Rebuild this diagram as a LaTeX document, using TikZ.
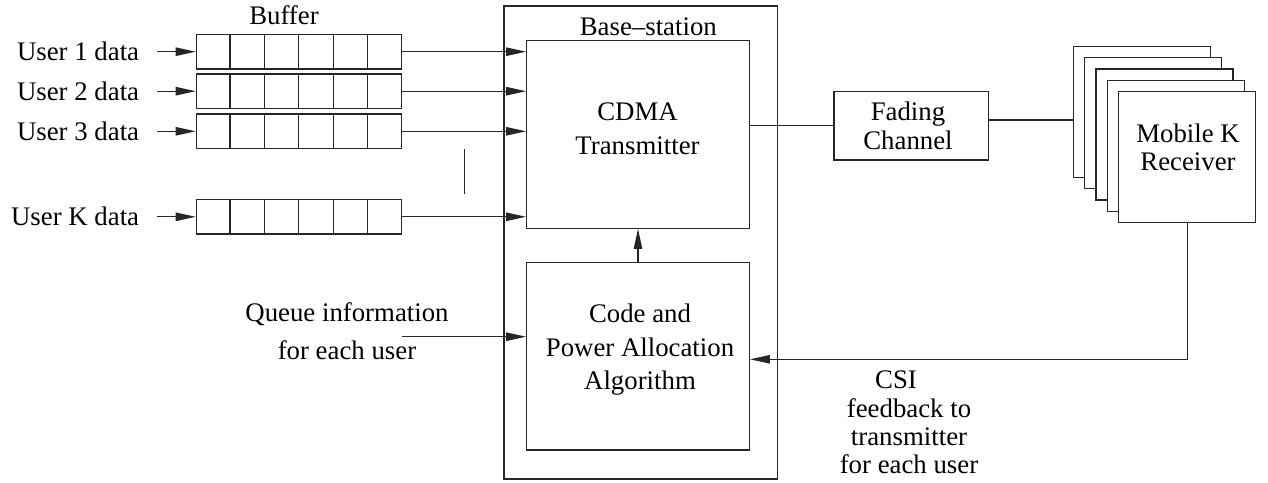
\documentclass[tikz,border=0pt]{standalone}
\usepackage{fontspec}
\setmainfont{Liberation Serif}
\usetikzlibrary{arrows.meta,calc}
\begin{document}
\begin{tikzpicture}[x=0.5pt,y=-0.5pt,
  every node/.style={font=\fontsize{13.4}{14.2}\selectfont, inner sep=0pt},
  box/.style={draw=black!85, line width=0.6pt, rectangle, fill=white},
  bufrow/.style={box, minimum width=102.45pt, minimum height=17.25pt},
  block/.style={box, minimum width=111.3pt, minimum height=93.8pt},
  rxbox/.style={box, minimum width=68.5pt, minimum height=65.5pt},
  wire/.style={draw=black!85, line width=0.6pt},
  arr/.style={wire, -{Triangle[length=10pt,width=4.2pt]}}]
\useasboundingbox (0,0) rectangle (1268,482);

% base station with its two blocks
\node[box, minimum width=136.65pt, minimum height=236.5pt] (bs) at (640.7,242.5) {};
\node (bslbl) at (648.3,26.7) {Base--station};
\node[block] (tx) at (638,134.5) {};
\node[align=center] (txlbl) at (637.5,128.7) {CDMA\\[2.8pt]Transmitter};
\node[block] (alloc) at (638,356.2) {};
\node[align=center] (alloclbl) at (640,349.7) {Code and\\[2.6pt]Power Allocation\\[2.6pt]Algorithm};

% channel
\node[box, minimum width=77.15pt, minimum height=34.15pt] (fade) at (911.2,125.85) {};
\node[align=center] (fadelbl) at (908,125.85) {Fading\\Channel};

% stack of mobile receivers
\foreach \k in {4,3,2,1}
  \node[rxbox] (m\k) at ({1187.2-11.35*\k},{157.2-11.35*\k}) {};
\node[rxbox] (mK) at (1187.2,157.2) {};
\node[align=center] (mklbl) at (1188,147.5) {Mobile K\\Receiver};

% user buffers
\node (buflbl) at (284,15) {Buffer};
\foreach \n/\y in {1/51.7,2/91.2,3/131.3,K/216.8} {
  \node[bufrow] (b\n) at (298.75,\y) {};
  \foreach \i in {1,...,5}
    \draw[wire] ($(b\n.south west)!\i/6!(b\n.south east)$) -- ($(b\n.north west)!\i/6!(b\n.north east)$);
  \node[anchor=east] (u\n) at (139.5,\y) {User \n\ data};
  \draw[arr] ([xshift=8.6pt]u\n.east) -- (b\n.west);
  \draw[arr] (b\n.east) -- (b\n.east -| tx.west);
}
\draw[wire] (464.2,149.3) -- (464.2,194);

% signal path
\draw[wire] (fade.west) -- (fade.west -| tx.east);
\draw[wire] ([yshift=2.9pt]fade.east) -- ([yshift=2.9pt]fade.east -| m4.west);
\draw[arr] (alloc.north) -- (tx.south);

% queue information
\node[align=center] (queue) at (347,331) {Queue information\\[5pt]for each user};
\coordinate (qin) at (402.2,336.7);
\draw[arr] (qin) -- (qin -| alloc.west);

% CSI feedback
\coordinate (fbrow) at (0,359.3);
\draw[arr] (mK.south) |- (fbrow -| alloc.east);
\node[align=center] (csi) at (909,422.5) {CSI\hspace*{13pt}\\feedback to\\transmitter\\for each user};
\end{tikzpicture}
\end{document}
